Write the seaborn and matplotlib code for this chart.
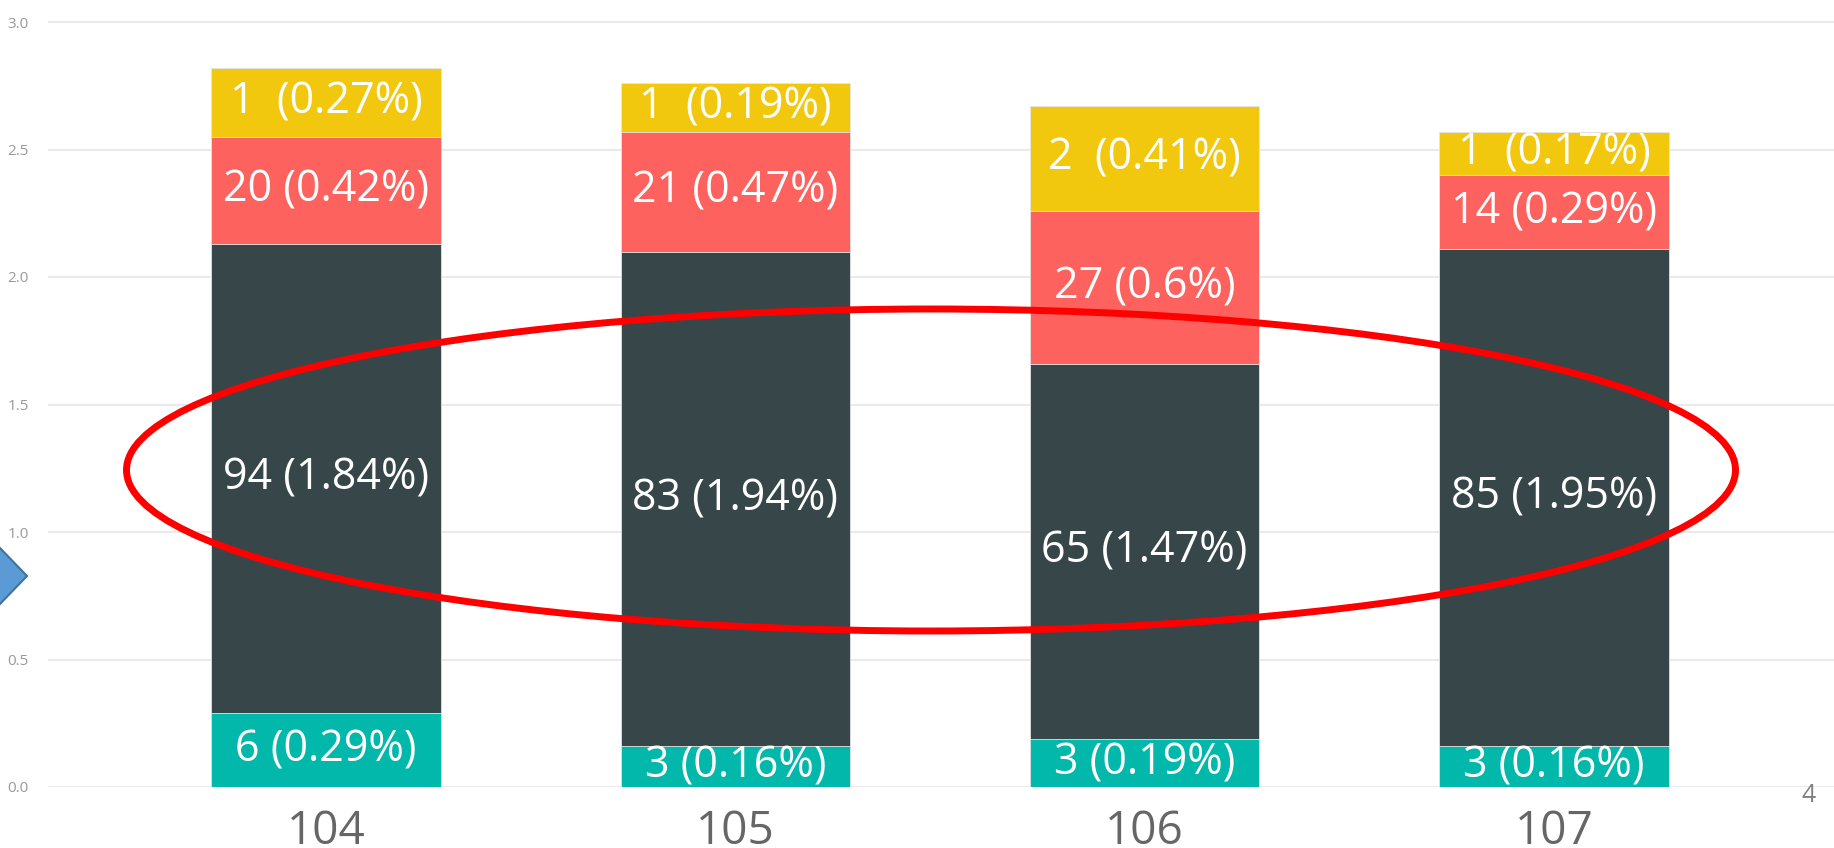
import numpy as np
import pandas as pd
import matplotlib
matplotlib.use("Agg")
import matplotlib.pyplot as plt
from matplotlib.patches import Ellipse, Polygon
import seaborn as sns

# school years on the x axis
years = ["104", "105", "106", "107"]

# stacked segments, bottom to top: (count, percent)
teal_n = [6, 3, 3, 3]
teal_pct = [0.29, 0.16, 0.19, 0.16]
dark_n = [94, 83, 65, 85]
dark_pct = [1.84, 1.94, 1.47, 1.95]
red_n = [20, 21, 27, 14]
red_pct = [0.42, 0.47, 0.6, 0.29]
yellow_n = [1, 1, 2, 1]
yellow_pct = [0.27, 0.19, 0.41, 0.17]

y_ticks = [0.0, 0.5, 1.0, 1.5, 2.0, 2.5, 3.0]


def main():
    sns.set_theme(style="white")
    plt.rcParams["font.family"] = ["Open Sans", "DejaVu Sans"]

    layers = [
        ("teal", teal_n, teal_pct, "#01B8AA", " "),
        ("dark", dark_n, dark_pct, "#374649", " "),
        ("red", red_n, red_pct, "#FD625E", " "),
        ("yellow", yellow_n, yellow_pct, "#F2C80F", "  "),
    ]

    rows = []
    for name, ns, ps, _, _ in layers:
        for yr, n, p in zip(years, ns, ps):
            rows.append({"year": yr, "layer": name, "n": n, "pct": p})
    df = pd.DataFrame(rows)
    wide = df.pivot(index="year", columns="layer", values="pct").loc[years]
    order = [l[0] for l in layers]
    cum = wide[order].cumsum(axis=1)
    bottoms = cum.shift(1, axis=1).fillna(0)

    fig = plt.figure(figsize=(18.34, 8.48), dpi=100)
    ymax = 3.03
    ax = fig.add_axes([48 / 1834, 61 / 848, 1 - 48 / 1834, ymax * 255 / 848])

    # draw cumulative totals from the top layer down so the bars stack
    for name, ns, ps, color, sep in reversed(layers):
        sns.barplot(x=years, y=cum[name].values, order=years, color=color,
                    width=0.56, saturation=1, ax=ax, zorder=3,
                    edgecolor="#e6e6e6", linewidth=0.6)

    for name, ns, ps, color, sep in layers:
        for i, yr in enumerate(years):
            mid = bottoms.loc[yr, name] + wide.loc[yr, name] / 2
            ax.text(i, mid, f"{ns[i]}{sep}({ps[i]:g}%)", ha="center", va="center",
                    color="white", fontsize=31, zorder=5, clip_on=True)

    ax.set_ylim(0, ymax)
    ax.set_xlim(-0.679, 3.684)
    ax.set_yticks(y_ticks)
    ax.set_yticklabels([f"{t:.1f}" for t in y_ticks])
    ax.yaxis.grid(True, color="#eaeaea", linewidth=1.5, zorder=0)
    ax.set_axisbelow(True)
    for s in ax.spines.values():
        s.set_visible(False)
    ax.tick_params(axis="y", labelsize=11, colors="#999999", length=0, pad=14)
    ax.tick_params(axis="x", labelsize=33, colors="#666666", length=0, pad=16)
    ax.set_xlabel("")
    ax.set_ylabel("")

    # red highlight ellipse and the blue marker on the left edge
    fig.patches.append(Ellipse((931 / 1834, 1 - 470 / 848), 1609 / 1834, 322 / 848,
                               transform=fig.transFigure, fill=False,
                               edgecolor="#FF0000", linewidth=5, zorder=10))
    diamond = [(27 / 1834, 272 / 848), (0, 300 / 848), (-27 / 1834, 272 / 848), (0, 244 / 848)]
    fig.patches.append(Polygon(diamond, closed=True, transform=fig.transFigure,
                               facecolor="#5B9BD5", edgecolor="#41719C", linewidth=1.5))

    fig.text(1809 / 1834, 1 - 796 / 848, "4", ha="center", va="center",
             fontsize=18, color="#808080")

    fig.savefig("out.png", dpi=100)
    plt.close(fig)


if __name__ == "__main__":
    main()
